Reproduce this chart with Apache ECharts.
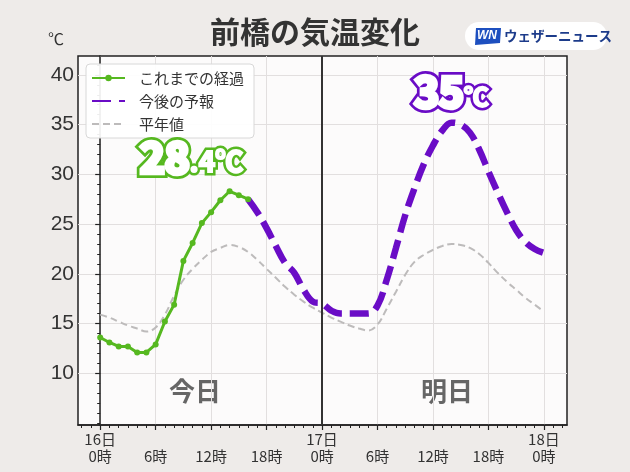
<!DOCTYPE html>
<html><head><meta charset="utf-8">
<script src="https://cdn.jsdelivr.net/npm/echarts@6/dist/echarts.min.js"></script>
<style>html,body{margin:0;padding:0;background:#eeebe9;}#c{width:630px;height:472px;}</style>
</head><body><div id="c"></div>
<script>
// hours since 16日0時
const obsHours = [0,1,2,3,4,5,6,7,8,9,10,11,12,13,14,15,16];
const obsTemps = [13.6,13.1,12.7,12.7,12.1,12.1,12.9,15.2,16.9,21.3,23.1,25.1,26.2,27.4,28.3,27.9,27.5];
const fcHours = [16,17,18,19,20,21,22,23,24,25,26,27,28,29,30,31,32,33,34,35,36,37,38,39,40,41,42,43,44,45,46,47,48];
const fcTemps = [27.5,26.2,24.6,22.8,21.1,20.1,18.4,17.2,17.0,16.3,16.0,16.0,16.0,16.0,16.8,19.4,22.6,25.9,28.6,31.0,32.9,34.4,35.2,35.0,34.2,32.5,30.3,28.2,26.2,24.4,23.2,22.5,22.1];
const normHours = [0,1,2,3,4,5,6,7,8,9,10,11,12,13,14,15,16,17,18,19,20,21,22,23,24,25,26,27,28,29,30,31,32,33,34,35,36,37,38,39,40,41,42,43,44,45,46,47,48];
const normTemps = [15.9,15.6,15.2,14.8,14.5,14.2,14.6,15.9,17.8,19.4,20.5,21.4,22.2,22.6,22.9,22.7,22.2,21.4,20.5,19.6,18.7,17.9,17.2,16.6,16.1,15.6,15.2,14.8,14.5,14.3,14.9,16.5,18.2,19.9,21.2,21.9,22.4,22.8,23.0,22.9,22.6,22.0,21.1,20.1,19.2,18.4,17.6,16.9,16.2];
const xTickHours = [0,6,12,18,24,30,36,42,48];
const xMinorHours = [-2,-1,0,1,2,3,4,5,6,7,8,9,10,11,12,13,14,15,16,17,18,19,20,21,22,23,24,25,26,27,28,29,30,31,32,33,34,35,36,37,38,39,40,41,42,43,44,45,46,47,48,49,50];
const yTicks = [10,15,20,25,30,35,40];
const yMinor = [5,6,7,8,9,10,11,12,13,14,15,16,17,18,19,20,21,22,23,24,25,26,27,28,29,30,31,32,33,34,35,36,37,38,39,40,41];
const dayNames = ['16日','17日','18日'];
const seriesNames = ['これまでの経過','今後の予報','平年値'];
const obsMaxLabel = ['28', '.4℃'];
const fcMaxLabel = ['35', '℃'];

const FONT = '"Noto Sans CJK JP", "Noto Sans", sans-serif';
const GREEN = '#56b820', PURPLE = '#6a0cc6', GRAY = '#bdbbbb';
const zip = (a,b) => a.map((v,i)=>[v,b[i]]);
const obsMaxIdx = obsTemps.indexOf(Math.max(...obsTemps));
const fcMaxIdx = fcTemps.indexOf(Math.max(...fcTemps));

// outlined label: a thick coloured layer under a white layer
function outlinedPoint(coord, parts, color, offset, sizes, pads) {
  const layer = (fill, w1, w2) => ({
    coord: coord,
    label: {show: true, position: 'inside', offset: offset,
      formatter: '{a|' + parts[0] + '}{b|' + parts[1] + '}',
      rich: {
        a: {fontSize: sizes[0], fontWeight: 'bold', color: fill, textBorderColor: fill, textBorderWidth: w1, fontFamily: FONT},
        b: {fontSize: sizes[1], fontWeight: 'bold', color: fill, textBorderColor: fill, textBorderWidth: w2, fontFamily: FONT, padding: pads}
      }}
  });
  return [layer(color, 10, 7), layer('#fff', 4.5, 2)];
}

const chart = echarts.init(document.getElementById('c'), null, {renderer:'canvas'});
chart.setOption({
  backgroundColor: '#eeebe9',
  animation: false,
  textStyle: {fontFamily: FONT},
  title: {text: '前橋の気温変化', left: 'center', top: 12,
    textStyle: {fontSize: 30, fontWeight: 'bold', color: '#333', fontFamily: FONT}},
  grid: {left: 78, right: 63, top: 56, bottom: 47, show: true, backgroundColor: '#fcfbfb', borderColor: '#222', borderWidth: 1.5},
  legend: {
    orient: 'vertical', left: 86, top: 64, itemWidth: 33, itemHeight: 8, itemGap: 7,
    padding: [6, 10, 6, 5], backgroundColor: 'rgba(255,255,255,0.92)', borderColor: '#d8d8d8', borderWidth: 1, borderRadius: 4,
    textStyle: {fontSize: 15, lineHeight: 16, color: '#333', fontFamily: FONT, padding: [0, 0, 0, 9]},
    data: [
      {name: seriesNames[0]},
      {name: seriesNames[1], itemStyle: {opacity: 0}},
      {name: seriesNames[2], itemStyle: {opacity: 0}}
    ]
  },
  xAxis: [{
    type: 'value', min: -2.4, max: 50.5,
    axisLine: {show: true, lineStyle: {color: '#222', width: 1.5}},
    axisTick: {show: true, customValues: xTickHours, length: 5, lineStyle: {color: '#222', width: 1.2}},
    axisLabel: {customValues: xTickHours, margin: 6, fontSize: 15, lineHeight: 17, color: '#333', fontFamily: FONT,
      formatter: v => (v % 24 === 0 ? dayNames[v/24] + '\n0時' : ' \n' + (v % 24) + '時')},
    splitLine: {show: true, lineStyle: {color: '#e2dfdf', width: 1}}
  },{
    type: 'value', min: -2.4, max: 50.5, position: 'bottom',
    axisLine: {show: false},
    axisTick: {show: true, customValues: xMinorHours, length: 3, lineStyle: {color: '#222', width: 1}},
    axisLabel: {show: false}, splitLine: {show: false}
  }],
  yAxis: [{
    type: 'value', min: 4.8, max: 41.9,
    axisLine: {show: true, lineStyle: {color: '#222', width: 1.5}},
    axisTick: {show: true, customValues: yTicks, length: 5, lineStyle: {color: '#222', width: 1.2}},
    axisLabel: {customValues: yTicks, margin: 4, fontSize: 21, color: '#333', fontFamily: '"Liberation Sans", Arial, sans-serif'},
    splitLine: {show: true, lineStyle: {color: '#e2dfdf', width: 1}}
  },{
    type: 'value', min: 4.8, max: 41.9, position: 'left',
    axisLine: {show: false},
    axisTick: {show: true, customValues: yMinor, length: 3, lineStyle: {color: '#222', width: 1}},
    axisLabel: {show: false}, splitLine: {show: false}
  }],
  series: [{
    name: seriesNames[2], type: 'line', data: zip(normHours, normTemps), smooth: 0.4,
    symbol: 'none', lineStyle: {color: GRAY, width: 2, type: [7, 4]}, itemStyle: {color: GRAY}, z: 2,
    markLine: {silent: true, symbol: 'none', label: {show: false},
      lineStyle: {color: '#333', width: 2, type: 'solid'}, data: [{xAxis: 24}]}
  },{
    name: seriesNames[1], type: 'line', data: zip(fcHours, fcTemps), smooth: 0.4,
    symbol: 'none', lineStyle: {color: PURPLE, width: 6.5, type: [19, 8], cap: 'butt'}, itemStyle: {color: PURPLE}, z: 3,
    markPoint: {symbol: 'circle', symbolSize: 1, itemStyle: {color: 'rgba(0,0,0,0)'},
      data: outlinedPoint([fcHours[fcMaxIdx], fcTemps[fcMaxIdx]], fcMaxLabel, PURPLE, [0, -32], [42, 25], [11,0,0,0])}
  },{
    name: seriesNames[0], type: 'line', data: zip(obsHours, obsTemps),
    symbol: 'circle', symbolSize: 6, showSymbol: true,
    lineStyle: {color: GREEN, width: 3}, itemStyle: {color: GREEN}, z: 4,
    markPoint: {symbol: 'circle', symbolSize: 1, itemStyle: {color: 'rgba(0,0,0,0)'},
      data: outlinedPoint([obsHours[obsMaxIdx], obsTemps[obsMaxIdx]], obsMaxLabel, GREEN, [-38, -34], [42, 28], [8,0,0,0])}
  }],
  graphic: [
    {type: 'text', left: 48, top: 31, style: {text: '℃', fontSize: 16, fill: '#333', fontFamily: FONT}},
    {type: 'text', x: 195, y: 391, style: {text: '今日', fontSize: 26, fontWeight: 'bold', fill: '#666', align: 'center', verticalAlign: 'middle', fontFamily: FONT}},
    {type: 'text', x: 447, y: 391, style: {text: '明日', fontSize: 26, fontWeight: 'bold', fill: '#666', align: 'center', verticalAlign: 'middle', fontFamily: FONT}},
    {type: 'group', x: 465, y: 22, children: [
      {type: 'rect', shape: {x: 0, y: 0, width: 142, height: 28, r: 14}, style: {fill: '#fff'}},
      {type: 'polygon', shape: {points: [[11,6],[36,6],[35,21],[10,23]]}, style: {fill: '#1d4fbf'}},
      {type: 'text', x: 12, y: 8, style: {text: 'WN', fontSize: 12, fontWeight: 'bold', fontStyle: 'italic', fill: '#fff', fontFamily: '"Liberation Sans", Arial'}},
      {type: 'text', x: 39, y: 14, style: {text: 'ウェザーニュース', fontSize: 13.5, fontWeight: 'bold', fill: '#1c3b8a', verticalAlign: 'middle', fontFamily: FONT}}
    ]}
  ]
});
</script></body></html>
